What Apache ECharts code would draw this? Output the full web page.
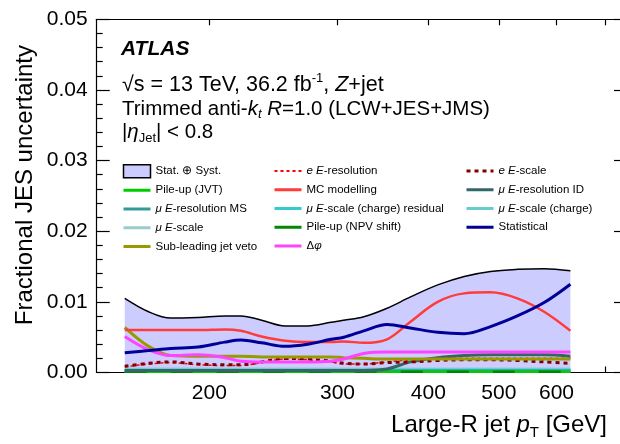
<!DOCTYPE html>
<html><head><meta charset="utf-8">
<script src="https://cdn.jsdelivr.net/npm/echarts@6/dist/echarts.min.js"></script>
<style>html,body{margin:0;padding:0;background:#fff}#c{width:620px;height:444px}</style>
</head><body><div id="c"></div>
<script>
// ---- data ----
const pt = [153, 165, 177, 193, 210, 221, 236, 254, 273, 294, 306, 326, 351, 378, 412, 448, 487, 530, 577, 627];
const total = [0.0105,0.0086,0.0077,0.0078,0.0080,0.0080,0.0074,0.0066,0.0066,0.0071,0.0074,0.0079,0.0091,0.0107,0.0124,0.0136,0.0143,0.0146,0.0147,0.0144];
const mcModelling = [0.0060,0.0060,0.0060,0.0060,0.0061,0.0059,0.0051,0.0045,0.0043,0.0043,0.0044,0.0042,0.0047,0.0072,0.0100,0.0112,0.01135,0.0105,0.0086,0.0059];
const statistical = [0.0028,0.0031,0.0034,0.0036,0.0043,0.0046,0.0042,0.0037,0.0040,0.0047,0.0050,0.0059,0.0068,0.0063,0.0057,0.0055,0.0065,0.0080,0.0099,0.0125];
const jetVeto = [0.0064,0.0037,0.0024,0.0023,0.0023,0.0023,0.0022,0.0022,0.0022,0.0022,0.0021,0.0020,0.0019,0.0019,0.0019,0.0019,0.0019,0.0019,0.0019,0.0019];
const deltaPhi = [0.0051,0.0032,0.0024,0.0025,0.0021,0.0016,0.0015,0.0015,0.0015,0.0016,0.0019,0.0027,0.0029,0.0029,0.0029,0.0029,0.0029,0.0029,0.0029,0.0029];
const eScale = [0.0009,0.0013,0.0015,0.0012,0.0011,0.0011,0.0015,0.0020,0.0019,0.0016,0.0013,0.0012,0.0014,0.0015,0.0017,0.0018,0.0018,0.0017,0.0015,0.0013];
const eRes = [0.0008,0.0012,0.0014,0.0011,0.0010,0.0010,0.0014,0.0019,0.0018,0.0015,0.0012,0.0012,0.0015,0.0018,0.0020,0.0020,0.0020,0.0020,0.0020,0.0020];
const muResID = [0.0003,0.0003,0.0003,0.0003,0.0003,0.0003,0.0003,0.0003,0.0003,0.0003,0.0003,0.0003,0.0005,0.0015,0.0021,0.0024,0.0025,0.0025,0.0025,0.0023];
const muResMS = [0.0002,0.0002,0.0002,0.0002,0.0002,0.0002,0.0002,0.0002,0.0002,0.0002,0.0002,0.0002,0.0002,0.0002,0.0002,0.0002,0.0002,0.0002,0.0002,0.0002];
const muScaleChargeRes = [0.0003,0.0003,0.0003,0.0003,0.0003,0.0003,0.0003,0.0003,0.0003,0.0003,0.0003,0.0003,0.0003,0.0003,0.0003,0.0003,0.0003,0.0003,0.0003,0.0003];
const muScaleCharge = [0.0004,0.0004,0.0004,0.0004,0.0004,0.0004,0.0004,0.0004,0.0004,0.0004,0.0004,0.0004,0.0004,0.0004,0.0004,0.0004,0.0004,0.0004,0.0004,0.0004];
const muScale = [0.0005,0.0005,0.0005,0.0005,0.0005,0.0005,0.0005,0.0005,0.0005,0.0005,0.0005,0.0005,0.0005,0.0005,0.0005,0.0005,0.0005,0.0005,0.0005,0.0005];
const puJVT = [0.0001,0.0001,0.0001,0.0001,0.0001,0.0001,0.0001,0.0001,0.0001,0.0001,0.0001,0.0001,0.0001,0.0001,0.0001,0.0001,0.0001,0.0001,0.0001,0.0001];
const puNPV = [0.0001,0.0001,0.0001,0.0001,0.0001,0.0001,0.0001,0.0001,0.0001,0.0001,0.0001,0.0001,0.0001,0.0001,0.0001,0.0001,0.0001,0.0001,0.0001,0.0001];
const xTicks = [200, 300, 400, 500, 600, 700];
const xLabels = [200, 300, 400, 500, 600];
const legendCol1 = ['Stat. ⊕ Syst.', 'Pile-up (JVT)', 'μ E-resolution MS', 'μ E-scale', 'Sub-leading jet veto'];
const legendCol2 = ['e E-resolution', 'MC modelling', 'μ E-scale (charge) residual', 'Pile-up (NPV shift)', 'Δφ'];
const legendCol3 = ['e E-scale', 'μ E-resolution ID', 'μ E-scale (charge)', 'Statistical'];

// ---- chart ----
const FF = '"Liberation Sans", Arial, Helvetica, sans-serif';
const chart = echarts.init(document.getElementById('c'), null, {renderer: 'canvas'});
const pairs = arr => pt.map((p, i) => [p, arr[i]]);
function ln(name, arr, color, width, type, z) {
  return {type: 'line', name, data: pairs(arr), symbol: 'none', smooth: 0.35, silent: true,
    lineStyle: {color, width, type: type || 'solid'}, itemStyle: {color}, z: z || 3};
}
const series = [
  {type: 'line', name: 'Stat. ⊕ Syst.', data: pairs(total), symbol: 'none', smooth: 0.35, silent: true,
   lineStyle: {color: '#000', width: 1.5}, itemStyle: {color: '#ccccff'},
   areaStyle: {color: '#ccccff', opacity: 1}, z: 1},
  ln('μ E-scale', muScale, '#99cccc', 3),
  ln('μ E-scale (charge)', muScaleCharge, '#66cccc', 3),
  ln('μ E-scale (charge) residual', muScaleChargeRes, '#33cccc', 3),
  ln('μ E-resolution MS', muResMS, '#339999', 3),
  ln('Pile-up (JVT)', puJVT, '#00cc00', 2.5),
  ln('Pile-up (NPV shift)', puNPV, '#008800', 2.5, [22, 24]),
  ln('μ E-resolution ID', muResID, '#336666', 3),
  ln('e E-resolution', eRes, '#ff0000', 1.5, [3, 3]),
  ln('e E-scale', eScale, '#800000', 3, [4, 4]),
  ln('Sub-leading jet veto', jetVeto, '#999900', 3),
  ln('Δφ', deltaPhi, '#ff44ff', 3),
  ln('MC modelling', mcModelling, '#ff3b3b', 2.5),
  ln('Statistical', statistical, '#000099', 3)
];
const rich = {
  i: {fontStyle: 'italic', fontSize: 11.5, fontFamily: FF, lineHeight: 14, color: '#000'}
};
const fmt = n => n.replace(/^e /, '{i|e} ').replace(/ E-/, ' {i|E}-').replace('μ', '{i|μ}').replace('φ', '{i|φ}');
function legendItem(n) {
  if (n === 'Stat. ⊕ Syst.') return {name: n, icon: 'rect', itemStyle: {color: '#ccccff', borderColor: '#000', borderWidth: 1.5, opacity: 1}};
  if (n === 'Pile-up (NPV shift)') return {name: n, lineStyle: {type: 'solid', width: 3}};
  if (n === 'e E-resolution') return {name: n, lineStyle: {width: 2.2}};
  return {name: n, lineStyle: {width: 3}};
}
function legend(col, left) {
  return {data: col.map(legendItem), left, top: 164, orient: 'vertical', itemGap: 4.75,
    itemWidth: 27, itemHeight: 13, padding: 0, selectedMode: false, formatter: fmt,
    itemStyle: {opacity: 0},
    textStyle: {fontSize: 11.5, fontFamily: FF, color: '#000', lineHeight: 14, rich}};
}
const axisBase = {
  axisLine: {show: true, onZero: false, lineStyle: {color: '#000', width: 1.2}},
  splitLine: {show: false}
};
const T = (o) => Object.assign({}, axisBase, o);
const txt = (size, style) => ({fontSize: size, fontFamily: FF, fontStyle: style || 'normal', lineHeight: 28, fill: '#000'});
const option = {
  animation: false,
  backgroundColor: '#fff',
  grid: {left: 96.7, top: 19.3, width: 530.3, height: 353.2, outerBoundsMode: 'none', containLabel: false},
  xAxis: [
    T({type: 'log', logBase: 10, min: 140, max: 750, position: 'bottom',
      axisTick: {show: true, inside: true, length: 6, lineStyle: {color: '#000', width: 1.2}, customValues: xTicks},
      axisLabel: {show: true, customValues: xLabels, color: '#000', fontSize: 21, fontFamily: FF, margin: 10},
      minorTick: {show: false}}),
    T({type: 'log', logBase: 10, min: 140, max: 750, position: 'top',
      axisTick: {show: true, inside: true, length: 6, lineStyle: {color: '#000', width: 1.2}, customValues: xTicks},
      axisLabel: {show: false}, minorTick: {show: false}})
  ],
  yAxis: [
    T({type: 'value', min: 0, max: 0.05, interval: 0.01, position: 'left',
      axisTick: {show: true, inside: true, length: 13, lineStyle: {color: '#000', width: 1.2}},
      minorTick: {show: true, splitNumber: 5, length: 6, lineStyle: {color: '#000', width: 1.2}},
      axisLabel: {color: '#000', fontSize: 21, fontFamily: FF, margin: 9, formatter: v => v.toFixed(2)}}),
    T({type: 'value', min: 0, max: 0.05, interval: 0.01, position: 'right',
      axisTick: {show: true, inside: true, length: 13, lineStyle: {color: '#000', width: 1.2}},
      minorTick: {show: true, splitNumber: 5, length: 6, lineStyle: {color: '#000', width: 1.2}},
      axisLabel: {show: false}})
  ],
  legend: [legend(legendCol1, 122), legend(legendCol2, 273), legend(legendCol3, 465)],
  series,
  graphic: [
    {type: 'text', x: 121, y: 49, style: Object.assign(txt(21, 'italic'), {text: 'ATLAS', fontWeight: 'bold', verticalAlign: 'middle', align: 'left'})},
    {type: 'text', x: 122, y: 85.5, style: Object.assign(txt(21.5), {text: '√s = 13 TeV, 36.2 fb{sup|-1}, {it|Z}+jet', verticalAlign: 'middle', align: 'left',
      rich: {sup: Object.assign(txt(13), {padding: [0, 0, 14, 0]}), it: txt(21.5, 'italic')}})},
    {type: 'text', x: 122, y: 109, style: Object.assign(txt(20.5), {text: 'Trimmed anti-{it|k}{sub|t} {it|R}=1.0 (LCW+JES+JMS)', verticalAlign: 'middle', align: 'left',
      rich: {sub: Object.assign(txt(13, 'italic'), {padding: [10, 0, 0, 0]}), it: txt(20.5, 'italic')}})},
    {type: 'text', x: 122, y: 132, style: Object.assign(txt(20.5), {text: '|{it|η}{sub|Jet}| < 0.8', verticalAlign: 'middle', align: 'left',
      rich: {sub: Object.assign(txt(13), {padding: [12, 0, 0, 0]}), it: txt(20.5, 'italic')}})},
    {type: 'text', x: 25, y: 45, rotation: Math.PI / 2, style: Object.assign(txt(24), {text: 'Fractional JES uncertainty', align: 'right', verticalAlign: 'middle'})},
    {type: 'text', x: 607, y: 425.6, style: Object.assign(txt(24), {text: 'Large-R jet {it|p}{sub|T} [GeV]', align: 'right', verticalAlign: 'middle',
      rich: {it: txt(24, 'italic'), sub: Object.assign(txt(15), {padding: [14, 0, 0, 0]})}})}
  ]
};
chart.setOption(option);
</script></body></html>
